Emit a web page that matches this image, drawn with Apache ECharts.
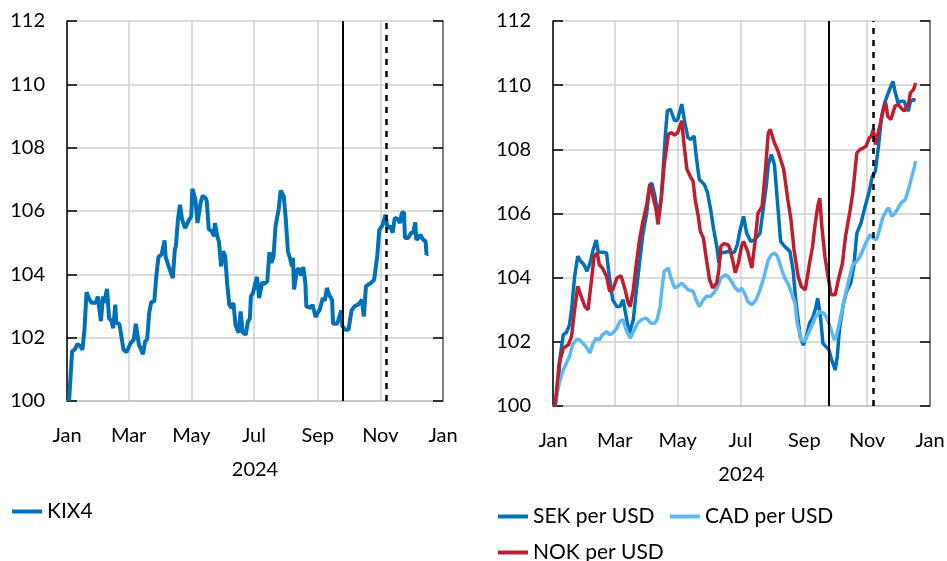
<!DOCTYPE html>
<html><head><meta charset="utf-8">
<script src="https://cdn.jsdelivr.net/npm/echarts@6/dist/echarts.min.js"></script>
<style>html,body{margin:0;padding:0;background:#fff}#c{width:947px;height:561px}</style>
</head><body><div id="c"></div>
<script>
// x values are days since 1 Jan 2024
const monthTicks = [0, 60, 121, 182, 244, 305, 366];
const monthLabels = ['Jan', 'Mar', 'May', 'Jul', 'Sep', 'Nov', 'Jan'];
const yearLabel = '2024';
const eventDays = [268, 311]; // 25 Sep (solid), 7 Nov (dashed)

const kixDay = [2,5,8,10,13,15,17,19,22,24,28,30,33,35,36,39,41,43,45,47,48,51,55,58,62,65,67,70,74,76,78,80,82,85,87,89,92,95,96,100,103,105,106,108,110,112,115,119,121,122,125,127,130,132,135,136,138,141,143,144,146,148,150,152,154,156,158,160,162,164,167,169,171,174,176,178,179,181,185,187,190,192,195,197,199,201,203,206,208,211,213,215,217,219,220,221,224,226,228,230,232,233,237,239,242,244,246,249,251,253,255,258,259,263,264,267,268,271,274,277,280,283,285,287,289,291,293,296,299,302,304,307,310,312,315,317,319,322,324,326,328,329,332,335,337,339,340,342,344,346,349,350,351];
const kixVal = [100,101.57,101.64,101.8,101.73,101.62,102.25,103.43,103.2,103.1,103.1,103.3,102.52,103.3,103.1,103.54,102.6,102.55,102.3,103.04,102.46,102.44,101.62,101.54,101.83,101.94,102.44,101.78,101.48,101.88,101.94,102.78,103.12,103.15,103.96,104.55,104.62,105.07,104.55,104.15,103.88,104.8,104.88,105.73,106.2,105.73,105.46,105.73,105.83,106.7,106.36,105.62,106.25,106.48,106.4,106.33,105.43,105.36,105.2,105.62,105.25,105.01,104.25,104.73,104.57,103.67,103.04,102.94,103.1,102.41,102.15,102.83,102.17,102.09,102.5,102.6,103.3,103.41,103.92,103.25,103.75,103.7,103.78,104.7,104.36,104.55,105.52,106.04,106.65,106.46,105.73,104.73,104.52,104.25,104.52,103.52,104.15,104.17,103.96,104.23,103.73,102.99,102.94,103.04,102.65,102.78,102.88,103.25,103.17,103.57,103.36,103.2,102.44,102.44,102.41,102.86,102.36,102.25,102.25,102.86,102.99,103.04,103.1,103.2,102.67,103.62,103.67,103.73,103.83,104.57,105.41,105.54,105.88,105.46,105.52,105.31,105.78,105.75,105.62,105.94,105.96,105.15,105.15,105.31,105.31,105.64,105.09,105.15,105.25,105.12,105.04,104.62,104.65];

const sekDay = [2,5,7,10,13,16,18,21,24,27,30,33,36,39,42,44,49,52,55,58,62,65,68,71,74,78,81,84,87,91,94,96,99,102,105,107,109,111,114,118,121,125,128,131,134,137,139,142,147,150,153,156,159,161,163,167,170,173,176,179,181,185,188,192,196,201,204,207,209,212,215,218,221,225,230,233,236,240,243,246,249,252,255,257,260,262,265,268,270,274,276,278,282,285,289,292,295,299,303,307,310,313,316,319,322,325,328,330,332,335,338,341,343,345,347,350,352];
const sekVal = [100,100.71,101.54,102.22,102.29,102.53,103.0,104.04,104.67,104.51,104.41,104.2,104.46,104.88,105.17,104.79,104.79,104.77,103.94,103.31,103.1,103.1,103.31,102.79,102.27,102.69,103.63,104.46,105.29,106.02,106.9,106.94,106.54,105.94,106.44,107.38,108.42,109.2,109.25,108.89,108.92,109.41,108.83,108.36,108.31,108.42,107.79,107.06,106.9,106.65,106.13,105.5,104.98,104.46,104.77,104.79,104.82,104.77,104.79,105.03,105.4,105.91,105.39,105.13,105.18,105.39,106.12,106.85,107.52,107.84,107.52,106.33,105.13,104.97,104.82,104.25,103.2,102.16,101.9,102.16,102.58,102.74,103.05,103.36,102.68,101.96,101.85,101.75,101.49,101.12,101.54,102.37,103.2,103.57,103.83,104.35,105.39,105.7,106.22,106.69,107.16,107.32,108.1,109.03,109.45,109.71,109.97,110.12,109.81,109.45,109.5,109.5,109.29,109.19,109.5,109.55,109.53];

const cadDay = [2,6,10,13,16,19,23,26,29,32,36,39,42,45,48,52,55,58,62,65,68,71,75,79,82,86,90,92,95,99,101,104,106,108,112,114,118,121,125,128,131,136,139,142,146,149,153,156,160,163,167,170,173,176,180,183,186,189,193,197,201,205,209,212,215,218,222,225,228,231,235,237,241,244,248,251,255,259,263,266,270,273,275,278,282,285,288,291,295,298,301,304,308,311,314,317,320,324,326,329,332,335,338,342,345,348,351,352];
const cadVal = [100,100.71,101.13,101.33,101.54,101.91,102.08,102.06,101.96,101.85,101.65,101.96,102.11,102.06,102.22,102.32,102.22,102.27,102.43,102.64,102.69,102.38,102.11,102.38,102.58,102.69,102.74,102.69,102.58,102.58,102.69,103.1,103.73,104.2,104.3,104.04,103.68,103.73,103.83,103.73,103.63,103.57,103.31,103.1,103.31,103.42,103.42,103.52,103.73,103.99,104.09,104.04,103.89,103.73,103.57,103.67,103.52,103.26,103.15,103.31,103.62,104.04,104.56,104.71,104.77,104.66,104.25,103.99,103.83,103.57,103.2,102.58,102.06,102.01,102.27,102.48,102.79,102.94,102.89,102.74,102.37,102.06,102.16,102.58,103.2,103.62,104.04,104.4,104.51,104.66,104.87,105.1,105.34,105.23,105.18,105.49,105.86,106.12,106.17,105.91,106.01,106.17,106.33,106.43,106.74,107.11,107.47,107.63];

const nokDay = [2,6,10,15,18,21,24,28,31,34,37,40,43,45,48,52,55,58,62,66,70,73,75,78,81,84,87,91,94,97,100,102,105,108,112,115,118,121,125,127,130,134,136,138,141,143,146,149,152,155,159,161,163,166,170,172,175,177,180,183,185,189,193,196,199,203,206,209,211,215,218,221,224,228,231,234,238,241,245,247,249,252,254,257,259,261,264,267,270,274,277,281,284,288,291,295,298,301,304,307,309,311,313,316,318,321,323,325,328,330,332,335,338,341,345,347,350,352];
const nokVal = [100,101.33,101.8,101.91,102.17,103.0,103.73,103.36,103.1,103.0,103.83,104.67,104.77,104.4,104.3,104.04,103.57,103.63,103.99,104.06,103.63,103.21,103.1,103.63,104.46,105.19,105.71,106.28,106.9,106.54,106.13,105.66,106.44,107.53,108.47,108.52,108.44,108.52,108.89,108.21,107.38,107.11,107.01,106.44,105.92,105.45,105.24,104.56,103.94,103.68,103.83,104.25,104.98,105.06,105.03,104.88,104.46,104.15,104.46,104.98,105.13,104.82,104.3,105.08,106.01,106.22,107.26,108.51,108.62,108.2,107.99,107.68,107.37,106.43,105.81,104.87,104.04,103.73,103.62,104.04,104.45,104.97,105.55,106.22,106.48,105.6,104.66,104.04,103.47,103.47,103.93,104.45,105.29,106.01,106.64,107.89,107.99,108.04,108.1,108.36,108.41,108.62,108.15,108.56,108.82,109.29,109.45,109.03,108.93,109.14,109.34,109.4,109.29,109.19,109.4,109.76,109.86,110.07];

const FONT = 'Lato';
const DARK = '#0071B9', LIGHT = '#5DB8F2', RED = '#BE1E2D';
const GRIDC = '#d0d0d0';

function xAxisCfg(gi) {
  return {
    type: 'value', gridIndex: gi, min: 0, max: 366,
    axisLine: { show: true, onZero: false, lineStyle: { color: '#bfbfbf', width: 1.5 } },
    axisTick: { show: false, customValues: monthTicks },
    axisLabel: { customValues: monthTicks, formatter: v => monthLabels[monthTicks.indexOf(v)],
      color: '#000', fontFamily: FONT, fontSize: 20, margin: 25 },
    splitLine: { show: true, lineStyle: { color: GRIDC, width: 1.5 } },
    name: yearLabel, nameLocation: 'middle', nameGap: 59,
    nameTextStyle: { color: '#000', fontFamily: FONT, fontSize: 20 }
  };
}
function yAxisCfg(gi, right) {
  return {
    type: 'value', gridIndex: gi, min: 100, max: 112, interval: 2,
    position: right ? 'right' : 'left',
    axisLine: { show: true, onZero: false, lineStyle: { color: right ? '#808080' : '#000', width: right ? 2 : 1.5 } },
    axisTick: { show: true, inside: true, length: 10, lineStyle: { color: '#000', width: 1.5 } },
    axisLabel: { show: !right, color: '#000', fontFamily: FONT, fontSize: 20, margin: 22 },
    splitLine: { show: !right, lineStyle: { color: GRIDC, width: 1.5 } }
  };
}
function events() {
  return {
    silent: true, symbol: ['none', 'none'], label: { show: false }, animation: false,
    data: [
      { xAxis: eventDays[0], lineStyle: { type: 'solid', color: '#000', width: 2 } },
      { xAxis: eventDays[1], lineStyle: { type: [6, 6], color: '#000', width: 2.5 } }
    ]
  };
}
function pairs(days, vals) { return days.map((d, i) => [d, vals[i]]); }
function lineSeries(name, xi, yi, days, vals, color, width, mark) {
  const s = { type: 'line', name, xAxisIndex: xi, yAxisIndex: yi, data: pairs(days, vals),
    showSymbol: false, symbol: 'none', lineStyle: { color, width }, itemStyle: { color } };
  if (mark) s.markLine = events();
  return s;
}
function legendCfg(name, left, top) {
  return { data: [name], left, top, padding: 0, itemWidth: 30, itemHeight: 4, icon: 'rect',
    textStyle: { fontFamily: FONT, fontSize: 21, color: '#000' } };
}

const chart = echarts.init(document.getElementById('c'), null, { renderer: 'canvas' });
chart.setOption({
  animation: false,
  backgroundColor: '#fff',
  grid: [
    { left: 67, top: 21, width: 376, height: 380, outerBoundsMode: 'none' },
    { left: 553, top: 21, width: 377, height: 385, outerBoundsMode: 'none' }
  ],
  xAxis: [xAxisCfg(0), xAxisCfg(1)],
  yAxis: [yAxisCfg(0, false), yAxisCfg(0, true), yAxisCfg(1, false), yAxisCfg(1, true)],
  legend: [
    legendCfg('KIX4', 12, 501),
    legendCfg('SEK per USD', 498, 506),
    legendCfg('CAD per USD', 670, 506),
    legendCfg('NOK per USD', 498, 542)
  ],
  series: [
    lineSeries('KIX4', 0, 0, kixDay, kixVal, DARK, 4, true),
    lineSeries('SEK per USD', 1, 2, sekDay, sekVal, DARK, 3.5, true),
    lineSeries('CAD per USD', 1, 2, cadDay, cadVal, LIGHT, 3.5, false),
    lineSeries('NOK per USD', 1, 2, nokDay, nokVal, RED, 3.5, false)
  ]
});
</script></body></html>
